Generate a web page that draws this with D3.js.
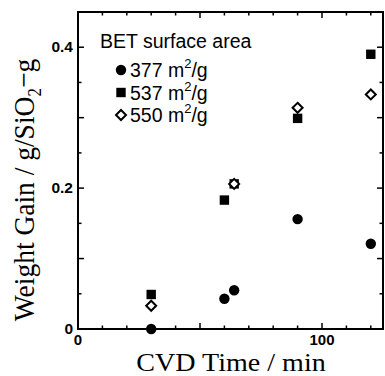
<!DOCTYPE html>
<html><head><meta charset="utf-8">
<script src="https://cdn.jsdelivr.net/npm/d3@7"></script>
<style>body{margin:0;background:#fff}svg{display:block}</style>
</head><body>
<svg id="c" width="385" height="376"></svg>
<script>
const xTicks = [0, 100];
const yTicks = [0, 0.2, 0.4];
const yTickLabels = ["0", "0.2", "0.4"];
const series377Time = [30, 60, 64, 90, 120];
const series377Gain = [0.0, 0.043, 0.055, 0.156, 0.121];
const series537Time = [30, 60, 64, 90, 120];
const series537Gain = [0.049, 0.183, 0.206, 0.299, 0.390];
const series550Time = [30, 64, 90, 120];
const series550Gain = [0.033, 0.206, 0.314, 0.333];
const legendLabels = ["377", "537", "550"];

const svg = d3.select("#c");
const L = 78, R = 383, T = 12, B = 329;
const x = d3.scaleLinear().domain([0, 125]).range([L, R]);
const y = d3.scaleLinear().domain([0, 0.45]).range([B, T]);

svg.append("rect").attr("x", L).attr("y", T).attr("width", R - L).attr("height", B - T)
  .attr("fill", "none").attr("stroke", "#000").attr("stroke-width", 2);

const g = svg.append("g").attr("stroke", "#000").attr("stroke-width", 1.5);
d3.range(0, 126, 10).forEach(v => {
  const major = v % 50 === 0;
  const len = major ? 6 : 3.5;
  g.append("line").attr("x1", x(v)).attr("x2", x(v)).attr("y1", B).attr("y2", B - len);
  g.append("line").attr("x1", x(v)).attr("x2", x(v)).attr("y1", T).attr("y2", T + len);
});
d3.range(0, 10).forEach(k => {
  const v = k * 0.05;
  const len = k % 2 === 0 ? 6 : 3.5;
  g.append("line").attr("x1", L).attr("x2", L + len).attr("y1", y(v)).attr("y2", y(v));
  g.append("line").attr("x1", R).attr("x2", R - len).attr("y1", y(v)).attr("y2", y(v));
});

const sans = "'Liberation Sans', Arial, sans-serif";
const serif = "'Liberation Serif', 'Times New Roman', serif";

svg.selectAll(".xt").data(xTicks).enter().append("text")
  .attr("x", d => x(d)).attr("y", B + 16).attr("text-anchor", "middle")
  .attr("font-family", sans).attr("font-size", 15).attr("font-weight", "bold").text(d => d);
svg.selectAll(".yt").data(yTicks).enter().append("text")
  .attr("x", L - 5).attr("y", d => y(d) + 5).attr("text-anchor", "end")
  .attr("font-family", sans).attr("font-size", 15.5).attr("font-weight", "bold")
  .text((d, i) => yTickLabels[i]);

svg.append("text").attr("transform", "translate(231,371) scale(1.08,1)").attr("text-anchor", "middle")
  .attr("font-family", serif).attr("font-size", 26).text("CVD Time / min");
const yl = svg.append("text").attr("transform", "translate(34,190) rotate(-90) scale(1,1.1)")
  .attr("text-anchor", "middle").attr("font-family", serif).attr("font-size", 27.5);
yl.append("tspan").text("Weight Gain / g/SiO");
yl.append("tspan").attr("font-size", 17).attr("dy", 6).text("2");
yl.append("tspan").attr("dy", -6).text("\u2212g");

const plot = svg.append("g");
function circle(sel, cx, cy) { sel.append("circle").attr("cx", cx).attr("cy", cy).attr("r", 5.2).attr("fill", "#000"); }
function square(sel, cx, cy) { sel.append("rect").attr("x", cx - 4.7).attr("y", cy - 4.7).attr("width", 9.4).attr("height", 9.4).attr("fill", "#000"); }
function diamond(sel, cx, cy) {
  sel.append("path").attr("d", `M${cx},${cy-5} L${cx+5},${cy} L${cx},${cy+5} L${cx-5},${cy} Z`)
    .attr("fill", "#fff").attr("stroke", "#000").attr("stroke-width", 2);
}
series537Time.forEach((t, i) => square(plot, x(t), y(series537Gain[i])));
series550Time.forEach((t, i) => diamond(plot, x(t), y(series550Gain[i])));
series377Time.forEach((t, i) => circle(plot, x(t), y(series377Gain[i])));

const lg = svg.append("g");
lg.append("text").attr("x", 100).attr("y", 48).attr("font-family", sans).attr("font-size", 19.5)
  .text("BET surface area");
const makers = [circle, square, diamond];
legendLabels.forEach((lab, i) => {
  const cy = 70 + i * 22.5;
  makers[i](lg, 121, cy);
  const t = lg.append("text").attr("x", 130).attr("y", cy + 7).attr("font-family", sans).attr("font-size", 19.5);
  t.append("tspan").text(lab + " m");
  t.append("tspan").attr("font-size", 13).attr("dy", -9).text("2");
  t.append("tspan").attr("dy", 9).text("/g");
});
</script>
</body></html>
